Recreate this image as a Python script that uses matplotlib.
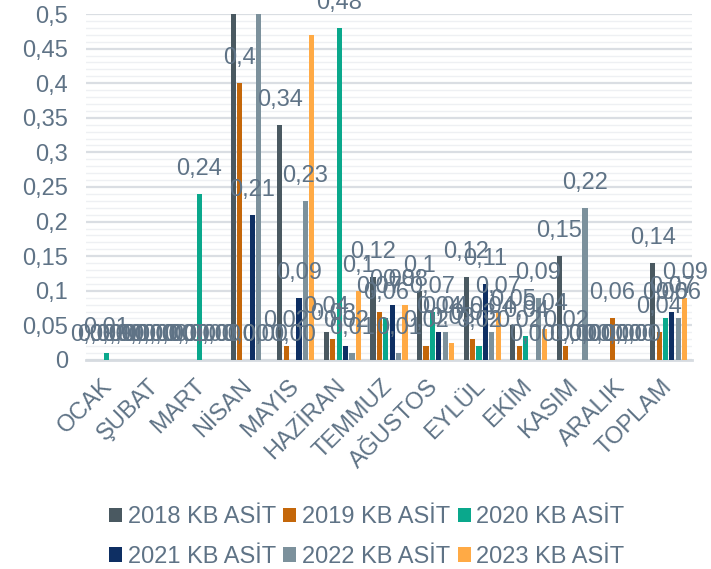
import numpy as np
import matplotlib
matplotlib.use("Agg")
import matplotlib.pyplot as plt
import matplotlib.transforms as mtransforms
from matplotlib.patches import Patch

months = ["OCAK", "ŞUBAT", "MART", "NİSAN", "MAYIS", "HAZİRAN", "TEMMUZ",
          "AĞUSTOS", "EYLÜL", "EKİM", "KASIM", "ARALIK", "TOPLAM"]

kb_2018 = [0, 0, 0, 0.56, 0.34, 0.04, 0.12, 0.10, 0.12, 0.05, 0.15, 0, 0.14]
kb_2019 = [0, 0, 0, 0.40, 0.02, 0.03, 0.07, 0.02, 0.03, 0.02, 0.02, 0.06, 0.04]
kb_2020 = [0.01, 0, 0.24, 0, 0, 0.48, 0.06, 0.07, 0.02, 0.035, 0, 0, 0.06]
kb_2021 = [0, 0, 0, 0.21, 0.09, 0.02, 0.08, 0.04, 0.11, 0, 0, 0, 0.07]
kb_2022 = [0, 0, 0, 0.50, 0.23, 0.01, 0.01, 0.04, 0.04, 0.09, 0.22, 0, 0.06]
kb_2023 = [0, 0, 0, 0, 0.47, 0.10, 0.08, 0.025, 0.07, 0.045, 0, 0, 0.09]

series_names = ["2018 KB ASİT", "2019 KB ASİT", "2020 KB ASİT",
                "2021 KB ASİT", "2022 KB ASİT", "2023 KB ASİT"]
series_values = [kb_2018, kb_2019, kb_2020, kb_2021, kb_2022, kb_2023]
colors = ["#4a5961", "#c4670a", "#0aa88c", "#0e2f63", "#7c919c", "#ffaa45"]

# labels the source chart does not show (series index, month)
hidden_labels = {(5, "MAYIS")}

TEXT = "#5f7386"
FS = 17
plt.rcParams["font.family"] = ["Liberation Sans", "DejaVu Sans"]


def fmt(v):
    if v == 0:
        return "0,00"
    s = f"{v:.2f}".rstrip("0").rstrip(".")
    return s.replace(".", ",")


fig = plt.figure(figsize=(7.11, 5.69), dpi=100)
ax = fig.add_axes([86 / 711, 1 - 360 / 569, 606 / 711, 346 / 569])

x = np.arange(len(months))
pitch = 0.137
width = 0.11
ymax = 0.5
for i, (vals, col) in enumerate(zip(series_values, colors)):
    pos = x + (i - 2.5) * pitch
    ax.bar(pos, vals, width=width, color=col, zorder=3)
    for px, v, m in zip(pos, vals, months):
        if v >= ymax or (i, m) in hidden_labels:
            continue
        ax.annotate(fmt(v), (px, v), xytext=(0, 18), textcoords="offset points",
                    ha="center", va="center", fontsize=FS, color=TEXT,
                    annotation_clip=False, zorder=4)

ax.set_xlim(-0.5, len(months) - 0.5)
ax.set_ylim(0, ymax)
major = np.arange(0, ymax + 0.001, 0.05)
ax.set_yticks(major)
ax.set_yticklabels([fmt(t) if t > 0 else "0" for t in major])
ax.set_yticks(np.arange(0, ymax + 0.001, 0.01), minor=True)
ax.grid(axis="y", which="minor", color="#eef0f3", lw=1.0, zorder=0)
ax.grid(axis="y", which="major", color="#dadee3", lw=1.6, zorder=1)
ax.tick_params(axis="y", which="both", length=0, pad=13, labelsize=FS, labelcolor=TEXT)

for s in ["top", "right", "left"]:
    ax.spines[s].set_visible(False)
ax.spines["bottom"].set_color("#d6dbe0")
ax.spines["bottom"].set_linewidth(2)

ax.set_xticks(x)
ax.set_xticklabels(months, rotation=45, ha="right", va="top",
                   rotation_mode="anchor", fontsize=FS, color=TEXT)
ax.tick_params(axis="x", length=0, pad=11)
offset = mtransforms.ScaledTranslation(-6 / 72, 0, fig.dpi_scale_trans)
for lab in ax.get_xticklabels():
    lab.set_transform(lab.get_transform() + offset)

# fig.legend fills columns first, so reorder to read row by row
order = [0, 3, 1, 4, 2, 5]
handles = [Patch(facecolor=colors[k], edgecolor="none") for k in order]
labels = [series_names[k] for k in order]
fig.legend(handles, labels, loc="center", ncol=3,
           bbox_to_anchor=(367 / 711, 1 - 537 / 569), frameon=False,
           fontsize=FS, labelcolor=TEXT, handlelength=0.55, handleheight=0.55,
           handletextpad=0.25, columnspacing=0.3, labelspacing=0.75)

fig.savefig("out.png", dpi=100)
